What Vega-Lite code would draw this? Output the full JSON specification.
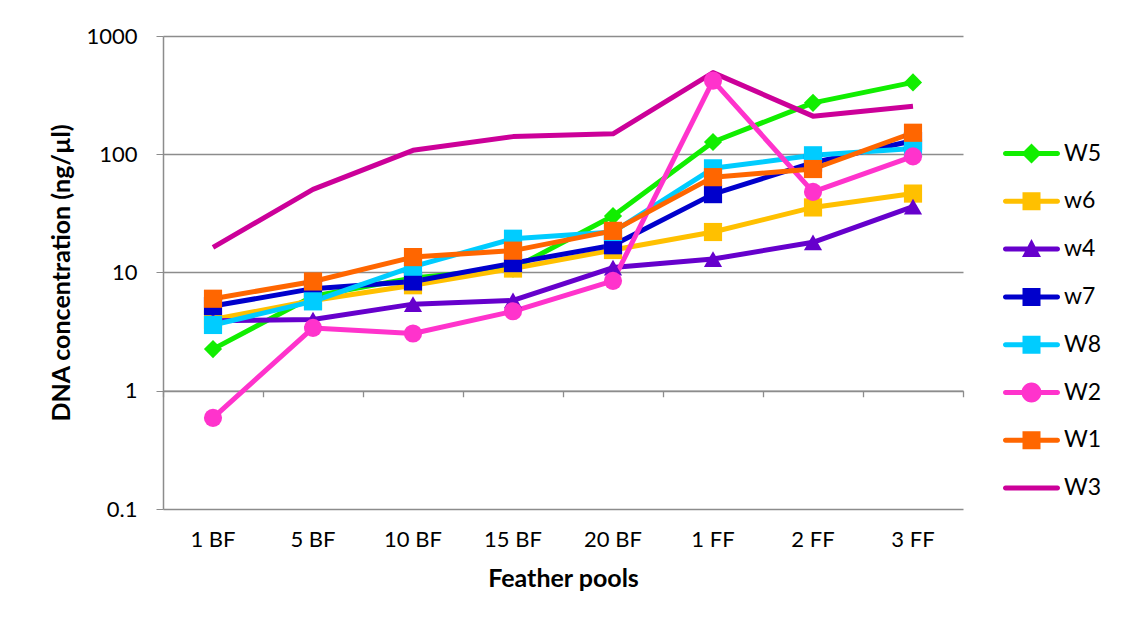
{
  "$schema": "https://vega.github.io/schema/vega-lite/v6.json",
  "width": 800,
  "height": 473,
  "autosize": {"type": "none"},
  "padding": {"left": 163, "top": 36, "right": 159, "bottom": 117},
  "background": "white",
  "config": {
    "view": {"stroke": null},
    "font": "Lato",
    "axis": {"labelFont": "Lato", "titleFont": "Lato", "labelColor": "black", "titleColor": "black"}
  },
  "data": {
    "values": [
      {"p": "1 BF", "s": "W5", "v": 2.25}, {"p": "5 BF", "s": "W5", "v": 6.3}, {"p": "10 BF", "s": "W5", "v": 9.0}, {"p": "15 BF", "s": "W5", "v": 10.8},
      {"p": "20 BF", "s": "W5", "v": 30}, {"p": "1 FF", "s": "W5", "v": 127}, {"p": "2 FF", "s": "W5", "v": 272}, {"p": "3 FF", "s": "W5", "v": 405},
      {"p": "1 BF", "s": "w6", "v": 4.0}, {"p": "5 BF", "s": "w6", "v": 5.8}, {"p": "10 BF", "s": "w6", "v": 7.8}, {"p": "15 BF", "s": "w6", "v": 10.8},
      {"p": "20 BF", "s": "w6", "v": 15.5}, {"p": "1 FF", "s": "w6", "v": 22}, {"p": "2 FF", "s": "w6", "v": 35.5}, {"p": "3 FF", "s": "w6", "v": 46.5},
      {"p": "1 BF", "s": "w4", "v": 3.9}, {"p": "5 BF", "s": "w4", "v": 4.0}, {"p": "10 BF", "s": "w4", "v": 5.4}, {"p": "15 BF", "s": "w4", "v": 5.8},
      {"p": "20 BF", "s": "w4", "v": 11}, {"p": "1 FF", "s": "w4", "v": 13}, {"p": "2 FF", "s": "w4", "v": 18}, {"p": "3 FF", "s": "w4", "v": 36},
      {"p": "1 BF", "s": "w7", "v": 5.2}, {"p": "5 BF", "s": "w7", "v": 7.3}, {"p": "10 BF", "s": "w7", "v": 8.4}, {"p": "15 BF", "s": "w7", "v": 12},
      {"p": "20 BF", "s": "w7", "v": 17}, {"p": "1 FF", "s": "w7", "v": 46}, {"p": "2 FF", "s": "w7", "v": 85}, {"p": "3 FF", "s": "w7", "v": 130},
      {"p": "1 BF", "s": "W8", "v": 3.6}, {"p": "5 BF", "s": "W8", "v": 5.7}, {"p": "10 BF", "s": "W8", "v": 11.2}, {"p": "15 BF", "s": "W8", "v": 19.3},
      {"p": "20 BF", "s": "W8", "v": 22}, {"p": "1 FF", "s": "W8", "v": 76}, {"p": "2 FF", "s": "W8", "v": 98}, {"p": "3 FF", "s": "W8", "v": 112},
      {"p": "1 BF", "s": "W2", "v": 0.59}, {"p": "5 BF", "s": "W2", "v": 3.4}, {"p": "10 BF", "s": "W2", "v": 3.05}, {"p": "15 BF", "s": "W2", "v": 4.7},
      {"p": "20 BF", "s": "W2", "v": 8.5}, {"p": "1 FF", "s": "W2", "v": 420}, {"p": "2 FF", "s": "W2", "v": 48}, {"p": "3 FF", "s": "W2", "v": 96},
      {"p": "1 BF", "s": "W1", "v": 6.0}, {"p": "5 BF", "s": "W1", "v": 8.4}, {"p": "10 BF", "s": "W1", "v": 13.5}, {"p": "15 BF", "s": "W1", "v": 15.3},
      {"p": "20 BF", "s": "W1", "v": 22.5}, {"p": "1 FF", "s": "W1", "v": 64}, {"p": "2 FF", "s": "W1", "v": 75}, {"p": "3 FF", "s": "W1", "v": 152},
      {"p": "1 BF", "s": "W3", "v": 16.3}, {"p": "5 BF", "s": "W3", "v": 50.5}, {"p": "10 BF", "s": "W3", "v": 108}, {"p": "15 BF", "s": "W3", "v": 141},
      {"p": "20 BF", "s": "W3", "v": 149}, {"p": "1 FF", "s": "W3", "v": 490}, {"p": "2 FF", "s": "W3", "v": 210}, {"p": "3 FF", "s": "W3", "v": 255}
    ]
  },
  "resolve": {"axis": {"x": "independent"}},
  "layer": [
    {
      "mark": {"type": "line", "strokeWidth": 5, "strokeJoin": "round", "strokeCap": "butt"},
      "encoding": {
        "x": {
          "field": "p", "type": "nominal",
          "scale": {"domain": ["1 BF", "5 BF", "10 BF", "15 BF", "20 BF", "1 FF", "2 FF", "3 FF"], "paddingInner": 0, "paddingOuter": 0},
          "axis": {"orient": "bottom", "title": "Feather pools", "titleFontSize": 25, "titleFontWeight": "bold", "titlePadding": 16,
                   "labelFontSize": 22, "labelAngle": 0, "labelPadding": 20, "ticks": false, "domain": false, "grid": false}
        },
        "y": {
          "field": "v", "type": "quantitative",
          "scale": {"type": "log", "domain": [0.1, 1000], "nice": false},
          "axis": {"values": [0.1, 1, 10, 100, 1000], "labelExpr": "format(datum.value, '~g')", "title": "DNA concentration (ng/µl)",
                   "titleFontSize": 25, "titleFontWeight": "bold", "titlePadding": 11, "labelFontSize": 22, "labelPadding": 19,
                   "tickSize": 7, "tickColor": "#8c8c8c", "domainColor": "#8c8c8c", "domainWidth": 1.5, "gridColor": "#8c8c8c", "gridWidth": 1.3, "grid": true}
        },
        "color": {
          "field": "s", "type": "nominal",
          "scale": {"domain": ["W5", "w6", "w4", "w7", "W8", "W2", "W1", "W3"],
                    "range": ["#11ee00", "#ffc000", "#6600cc", "#0000cc", "#00ccff", "#ff33cc", "#ff6600", "#cc0099"]},
          "legend": {
            "orient": "none", "legendX": 857, "legendY": 106, "title": null,
            "labelFont": "Lato", "labelFontSize": 23, "labelColor": "black", "labelOffset": 21,
            "symbolSize": 400, "rowPadding": 23.8, "symbolStrokeWidth": 0,
            "encode": {
              "symbols": {
                "update": {
                  "shape": {"signal": "datum.value == 'W5' ? 'M-2.6,-0.25H2.6A0.25,0.25 0 0,1 2.6,0.25H-2.6A0.25,0.25 0 0,1 -2.6,-0.25Z M0,-1L1,0L0,1L-1,0Z' : datum.value == 'w4' ? 'M-2.6,-0.25H2.6A0.25,0.25 0 0,1 2.6,0.25H-2.6A0.25,0.25 0 0,1 -2.6,-0.25Z M0,-1L0.95,0.8H-0.95Z' : datum.value == 'W2' ? 'M-2.6,-0.25H2.6A0.25,0.25 0 0,1 2.6,0.25H-2.6A0.25,0.25 0 0,1 -2.6,-0.25Z M-1,0A1,1 0 1,1 1,0A1,1 0 1,1 -1,0Z' : datum.value == 'W3' ? 'M-2.6,-0.25H2.6A0.25,0.25 0 0,1 2.6,0.25H-2.6A0.25,0.25 0 0,1 -2.6,-0.25Z' : 'M-2.6,-0.25H2.6A0.25,0.25 0 0,1 2.6,0.25H-2.6A0.25,0.25 0 0,1 -2.6,-0.25Z M-0.9,-0.9H0.9V0.9H-0.9Z'"},
                  "fill": {"signal": "scale('color', datum.value)"},
                  "stroke": {"value": "transparent"},
                  "strokeWidth": {"value": 0},
                  "opacity": {"value": 1},
                  "fillOpacity": {"value": 1}
                }
              }
            }
          }
        }
      }
    },
    {
      "transform": [{"filter": "datum.s != 'W3'"}],
      "mark": {"type": "point", "filled": true, "opacity": 1, "size": 330},
      "encoding": {
        "x": {
          "field": "p", "type": "nominal",
          "axis": {"orient": "bottom", "offset": -118.25, "labels": false, "title": null, "ticks": true, "tickBand": "extent",
                   "tickSize": 6, "tickColor": "#8c8c8c", "tickWidth": 1.3, "domain": true, "domainColor": "#8c8c8c", "domainWidth": 1.3, "grid": false}
        },
        "y": {"field": "v", "type": "quantitative"},
        "color": {"field": "s", "type": "nominal"},
        "shape": {
          "field": "s", "type": "nominal", "legend": null,
          "scale": {"domain": ["W5", "w6", "w4", "w7", "W8", "W2", "W1"],
                    "range": ["diamond", "square", "triangle-up", "square", "square", "circle", "square"]}
        },
        "size": {"field": "s", "type": "nominal", "legend": null,
          "scale": {"domain": ["W5", "w6", "w4", "w7", "W8", "W2", "W1"], "range": [330, 330, 300, 330, 330, 420, 330]}}
      }
    }
  ]
}
